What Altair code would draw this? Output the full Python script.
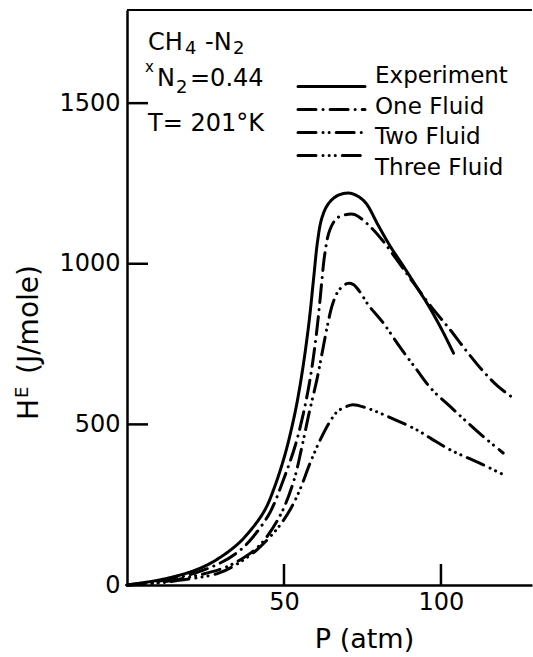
import altair as alt
import pandas as pd

series_names = ["Experiment", "One Fluid", "Two Fluid", "Three Fluid"]

exp_p = [0, 10, 20, 27, 35, 40, 44, 47, 50, 52, 54, 56, 58, 59.5, 60.7, 62, 64, 67, 70.5, 73, 76, 80, 84, 88, 92, 96, 100, 104]
exp_h = [0, 15, 40, 70, 125, 178, 235, 305, 395, 470, 560, 675, 820, 960, 1070, 1140, 1185, 1212, 1220, 1213, 1190, 1120, 1052, 993, 932, 870, 800, 722]

one_p = [0, 10, 20, 30, 36, 40, 45.5, 49.8, 53.5, 56.2, 58.3, 59.8, 61, 62, 63, 64.6, 67, 70.5, 72.6, 77, 81.6, 86.5, 91.2, 97, 102.9, 108, 113.5, 118, 123]
one_h = [0, 12, 32, 70, 108, 148, 225, 327, 431, 535, 640, 740, 840, 940, 1030, 1105, 1143, 1154, 1153, 1120, 1070, 1005, 941, 865, 795, 730, 665, 620, 582]

two_p = [0, 10, 20, 30, 36, 42.4, 48.7, 53, 55.6, 58, 60.5, 62.3, 64, 65.5, 67.5, 70, 72, 74, 77, 81.6, 87, 92.3, 97, 102.9, 108, 113.5, 119.8]
two_h = [0, 8, 25, 50, 78, 125, 215, 320, 425, 535, 640, 730, 815, 875, 918, 938, 936, 915, 870, 816, 740, 670, 610, 556, 510, 462, 411]

three_p = [0, 10, 16, 29, 35, 41.3, 46.6, 49, 52, 55, 58.3, 61.5, 64.6, 67, 70, 72, 76, 80.6, 86, 92.3, 97, 102.9, 108, 113.5, 121]
three_h = [0, 6, 14, 36, 65, 109, 161, 190, 235, 295, 379, 451, 508, 540, 556, 561, 552, 535, 512, 483, 455, 421, 398, 374, 338]

x_tick_values = [50, 100]
y_tick_values = [500, 1000, 1500]
y_label_values = [0, 500, 1000, 1500]

# annotation text pieces (main text and sub/superscripts)
note_main = ["CH", "-N", "N", "=0.44", "T= 201°K"]
note_small = ["4", "2", "x", "2"]
ytitle_parts = ["H", "E", "(J/mole)"]
x_title = "P (atm)"

rows = []
for name, ps, hs in zip(series_names, [exp_p, one_p, two_p, three_p], [exp_h, one_h, two_h, three_h]):
    for i, (p, h) in enumerate(zip(ps, hs)):
        rows.append({"series": name, "P": p, "H": h, "order": i})
df = pd.DataFrame(rows)

W, H = 405, 575
FONT = "DejaVu Sans"

x_scale = alt.Scale(domain=[0, 129], nice=False, zero=False)
y_scale = alt.Scale(domain=[0, 1790], nice=False, zero=False)
dash_scale = alt.Scale(
    domain=series_names,
    range=[[1, 0], [18, 7, 0.1, 7], [18, 7, 0.1, 6, 0.1, 7], [18, 7, 0.1, 6, 0.1, 6, 0.1, 7]],
)

x_axis = alt.Axis(
    values=x_tick_values, title=x_title, ticks=False, tickSize=0, labelPadding=5,
    labelFont=FONT, labelFontSize=24, labelColor="black",
    titleFont=FONT, titleFontSize=27, titleFontWeight="normal", titleColor="black",
    titleX=237, titleY=54, titleBaseline="middle", titleAlign="center",
    domainColor="black", domainWidth=2.5, grid=False,
)
y_axis = alt.Axis(
    values=y_label_values, format="d", title=None, ticks=False, tickSize=0, labelPadding=7,
    labelFont=FONT, labelFontSize=24, labelColor="black",
    domainColor="black", domainWidth=2.5, grid=False,
)

lines = alt.Chart(df).mark_line(
    color="black", strokeWidth=3, strokeCap="round", interpolate="catmull-rom"
).encode(
    x=alt.X("P:Q", scale=x_scale, axis=x_axis),
    y=alt.Y("H:Q", scale=y_scale, axis=y_axis),
    strokeDash=alt.StrokeDash("series:N", scale=dash_scale, legend=None),
    order="order:Q",
)

yticks = alt.Chart(pd.DataFrame({"v": y_tick_values})).mark_rule(
    color="black", strokeWidth=2.5
).encode(
    y=alt.Y("v:Q", scale=y_scale, axis=y_axis),
    x=alt.value(0), x2=alt.value(21),
)

xticks = alt.Chart(pd.DataFrame({"v": x_tick_values})).mark_rule(
    color="black", strokeWidth=2.5
).encode(
    x=alt.X("v:Q", scale=x_scale, axis=x_axis),
    y=alt.value(H), y2=alt.value(H - 21),
)

border = alt.Chart(pd.DataFrame({"a": [0]})).mark_rule(
    color="black", strokeWidth=2
).encode(x=alt.value(0), x2=alt.value(W), y=alt.value(0))


def txt(s, px, py, size, angle=0, align="left", baseline="alphabetic"):
    kw = dict(align=align, baseline=baseline, font=FONT, fontSize=size, color="black")
    if angle:
        kw["angle"] = angle
    return alt.Chart(pd.DataFrame({"t": [s]})).mark_text(**kw).encode(
        text="t:N", x=alt.value(px), y=alt.value(py)
    )


notes = [
    txt(note_main[0], 21, 40, 24),
    txt(note_small[0], 58, 44, 18),
    txt(note_main[1], 78, 40, 24),
    txt(note_small[1], 106, 44, 18),
    txt(note_small[2], 18, 62, 15),
    txt(note_main[2], 30, 76, 24),
    txt(note_small[3], 49, 83, 18),
    txt(note_main[3], 63, 76, 24),
    txt(note_main[4], 21, 121, 24),
    # rotated y-axis title
    txt(ytitle_parts[0], -89, 410, 28, angle=270),
    txt(ytitle_parts[1], -99, 388, 18, angle=270),
    txt(ytitle_parts[2], -89, 364, 28, angle=270),
]

main = alt.layer(lines, yticks, xticks, border, *notes)

leg_df = pd.DataFrame({"series": series_names})
leg_y = alt.Y("series:N", scale=alt.Scale(domain=series_names, range=[65, 157], padding=0), axis=None)
leg_rule = alt.Chart(leg_df).mark_rule(color="black", strokeWidth=3, strokeCap="round").encode(
    y=leg_y, x=alt.value(171), x2=alt.value(238),
    strokeDash=alt.StrokeDash("series:N", scale=dash_scale, legend=None),
)
leg_text = alt.Chart(leg_df).mark_text(
    align="left", baseline="middle", font=FONT, fontSize=23, color="black", dy=1
).encode(y=leg_y, x=alt.value(248), text="series:N")

chart = alt.layer(main, leg_rule, leg_text).resolve_scale(y="independent").properties(
    width=W, height=H, autosize="none",
    padding={"left": 127, "top": 10, "right": 1, "bottom": 72},
    background="white",
).configure_view(stroke=None)

chart.save("out.html", embed_options={"renderer": "svg", "actions": False})
